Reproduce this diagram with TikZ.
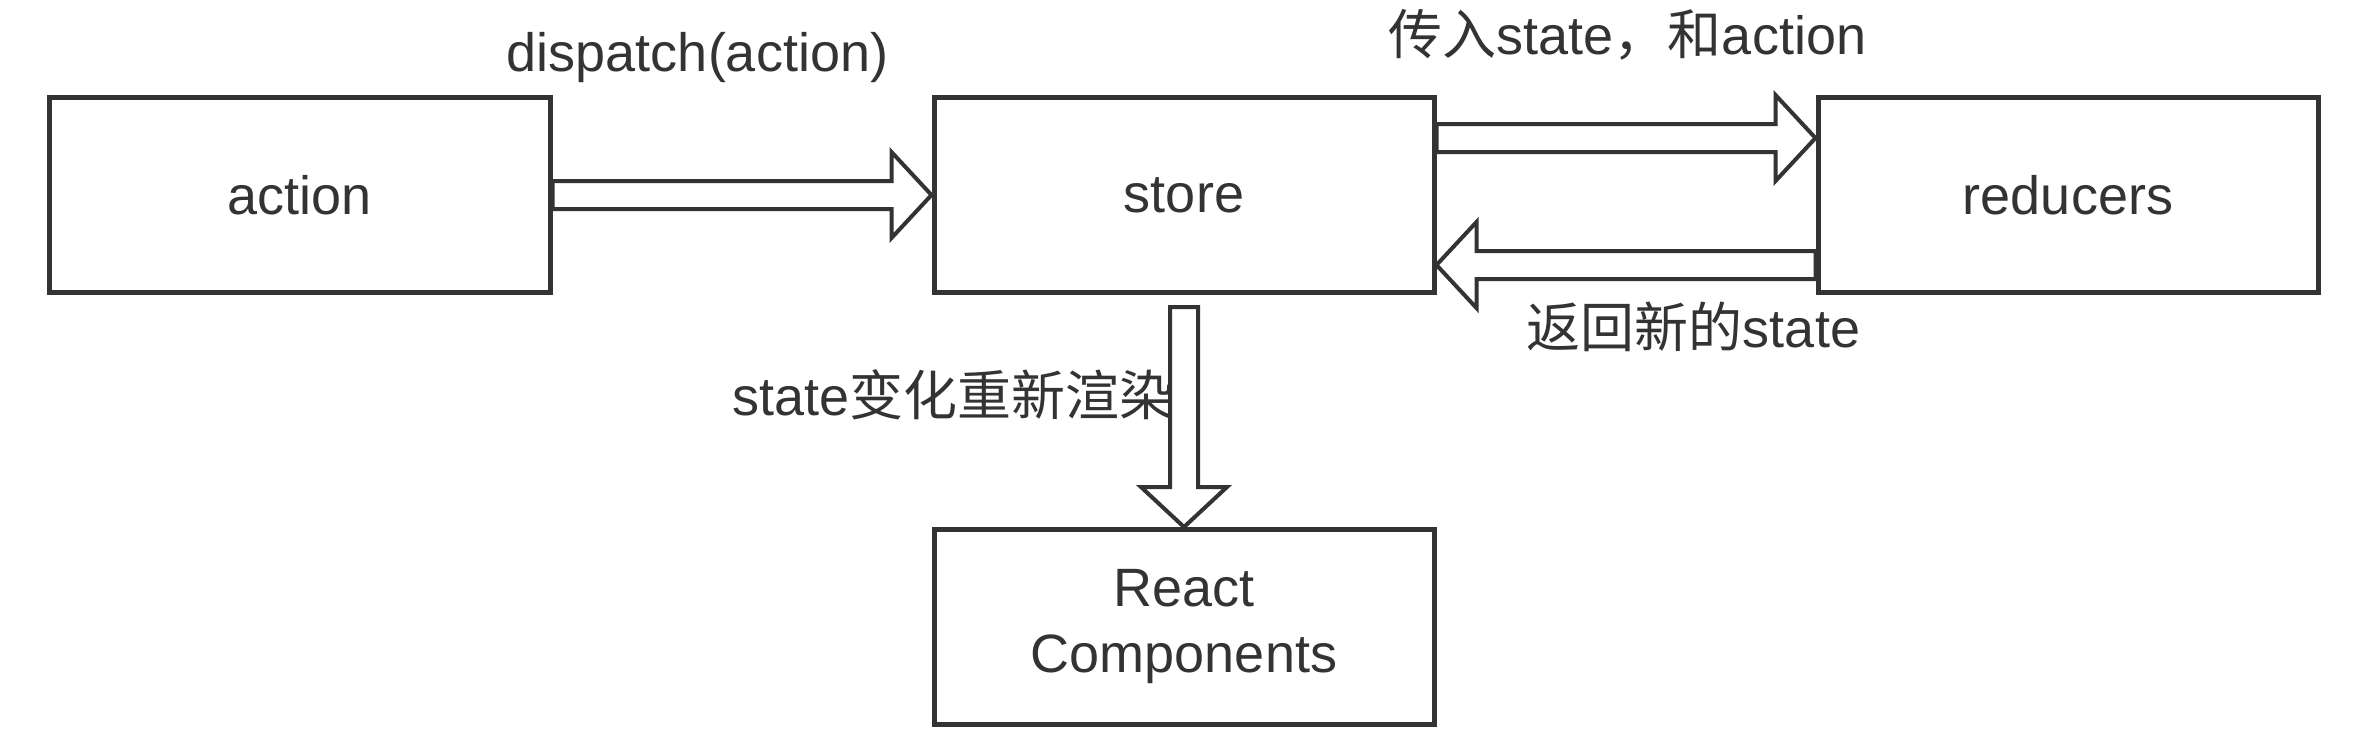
\documentclass[tikz,border=0pt]{standalone}
\usepackage{fontspec}
\setmainfont{Liberation Sans}
\newfontfamily\cjk{Noto Sans CJK SC}
\usetikzlibrary{positioning, calc}

\definecolor{ink}{HTML}{333333}

% hollow fat arrow from #1 to #2
\newcommand{\fatarrow}[2]{%
  \coordinate (hb) at ($(#2)!20pt!(#1)$);
  \draw [fat] ($(#1)!7pt!90:(#2)$) -- ($(hb)!7pt!90:(#2)$) -- ($(hb)!21.5pt!90:(#2)$) -- (#2)
    -- ($(hb)!21.5pt!-90:(#2)$) -- ($(hb)!7pt!-90:(#2)$) -- ($(#1)!7pt!-90:(#2)$) -- cycle;
}

\begin{document}
\begin{tikzpicture}[
    font=\fontsize{27}{33}\selectfont,
    text=ink,
    box/.style={rectangle, draw=ink, line width=2.5pt, minimum width=250pt, minimum height=97.5pt, align=center, inner sep=0pt},
    fat/.style={draw=ink, fill=white, line width=2pt, line join=miter},
    lbl/.style={anchor=base, inner sep=0pt}
]
\useasboundingbox (-150pt,97.5pt) rectangle (1029pt,-270.5pt);

% Nodes
\node (action) [box] at (0,0) {action};
\node (store) [box, right=189.5pt of action] {store};
\node (reducers) [box, right=189.5pt of store] {reducers};
\node (react) [box, below=115pt of store, yshift=-1pt] {React\\Components};

% Arrows
\coordinate (sendfrom) at ($(store.east)+(0,28.5pt)$);
\coordinate (sendto) at ($(reducers.west)+(0,28.5pt)$);
\coordinate (backfrom) at ($(reducers.west)+(0,-35pt)$);
\coordinate (backto) at ($(store.east)+(0,-35pt)$);
\coordinate (renderfrom) at ($(store.south)+(0,-6pt)$);
\fatarrow{action.east}{store.west}
\fatarrow{sendfrom}{sendto}
\fatarrow{backfrom}{backto}
\fatarrow{renderfrom}{react.north}

% Labels
\node (dispatchlbl) [lbl] at ($(action.north east)+(72.5pt,12pt)$) {dispatch(action)};
\node (sendlbl) [lbl] at ($(store.north east)+(95.5pt,20.5pt)$) {{\cjk 传入}state{\cjk ，和}action};
\node (backlbl) [lbl] at ($(store.south east)+(128.5pt,-26pt)$) {{\cjk 返回新的}state};
\node (renderlbl) [lbl] at ($(store.south)+(-115.5pt,-60pt)$) {state{\cjk 变化重新渲染}};

\end{tikzpicture}
\end{document}
